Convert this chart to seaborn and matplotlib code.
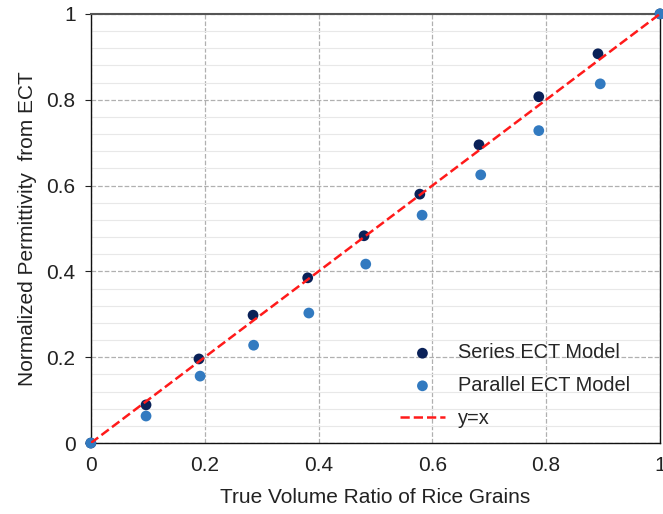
import numpy as np
import pandas as pd
import seaborn as sns
import matplotlib.pyplot as plt
from matplotlib.ticker import MultipleLocator, FuncFormatter

sns.set_style("white")
plt.rcParams['font.family'] = ['Liberation Sans', 'DejaVu Sans']

# values
series_x = [0, 0.097, 0.190, 0.285, 0.381, 0.480, 0.578, 0.682, 0.787, 0.891, 1.0]
series_y = [0, 0.089, 0.196, 0.298, 0.385, 0.483, 0.580, 0.695, 0.807, 0.907, 1.0]
parallel_x = [0, 0.097, 0.192, 0.286, 0.383, 0.483, 0.582, 0.685, 0.787, 0.895, 1.0]
parallel_y = [0, 0.063, 0.156, 0.228, 0.303, 0.417, 0.531, 0.625, 0.728, 0.837, 1.0]
line_x = [0, 1]

df_s = pd.DataFrame({'x': series_x, 'y': series_y})
df_p = pd.DataFrame({'x': parallel_x, 'y': parallel_y})
df_l = pd.DataFrame({'x': line_x, 'y': line_x})

fig = plt.figure(figsize=(6.63, 5.14), dpi=100)
ax = fig.add_axes([0.137, 0.138, 0.8585, 0.835])

ax.yaxis.set_minor_locator(MultipleLocator(0.04))
ax.grid(which='minor', axis='y', color='#e8e8e8', linewidth=0.8, linestyle='-')
ax.grid(which='major', color='#b0b0b0', linewidth=0.9, linestyle='--')
ax.set_axisbelow(True)

sns.scatterplot(data=df_s, x='x', y='y', ax=ax, color='#0a2158', s=60,
                edgecolor='none', label='Series ECT Model', zorder=3, clip_on=False)
sns.scatterplot(data=df_p, x='x', y='y', ax=ax, color='#327ac0', s=60,
                edgecolor='none', label='Parallel ECT Model', zorder=3, clip_on=False)
sns.lineplot(data=df_l, x='x', y='y', ax=ax, color='#ff1a1a', linestyle='--',
             linewidth=1.8, label='y=x', zorder=4, dashes=(4, 3))

ax.set_xlim(0, 1)
ax.set_ylim(0, 1)
ax.xaxis.set_major_locator(MultipleLocator(0.2))
ax.yaxis.set_major_locator(MultipleLocator(0.2))
fmt = FuncFormatter(lambda v, p: ('%g' % round(v, 2)))
ax.xaxis.set_major_formatter(fmt)
ax.yaxis.set_major_formatter(fmt)
ax.tick_params(axis='both', which='major', labelsize=15, colors='#222222',
               length=4, direction='out', left=True, bottom=False, pad=7)
ax.tick_params(axis='x', which='major', pad=5)
ax.tick_params(axis='y', which='minor', left=False)

for side in ['left', 'bottom', 'right']:
    ax.spines[side].set_color('#111111')
    ax.spines[side].set_linewidth(1.0)
ax.spines['top'].set_color('#555555')
ax.spines['top'].set_linewidth(1.5)

ax.set_xlabel('True Volume Ratio of Rice Grains', fontsize=15, color='#222222', labelpad=10)
ax.set_ylabel('Normalized Permittivity  from ECT', fontsize=15, color='#222222', labelpad=7)

ax.legend(loc='center left', frameon=False, fontsize=14.4, bbox_to_anchor=(0.529, 0.134),
          borderaxespad=0, handletextpad=0.65, handlelength=2.25, labelspacing=0.68,
          markerscale=1.0)

fig.savefig('out.png', dpi=100)
